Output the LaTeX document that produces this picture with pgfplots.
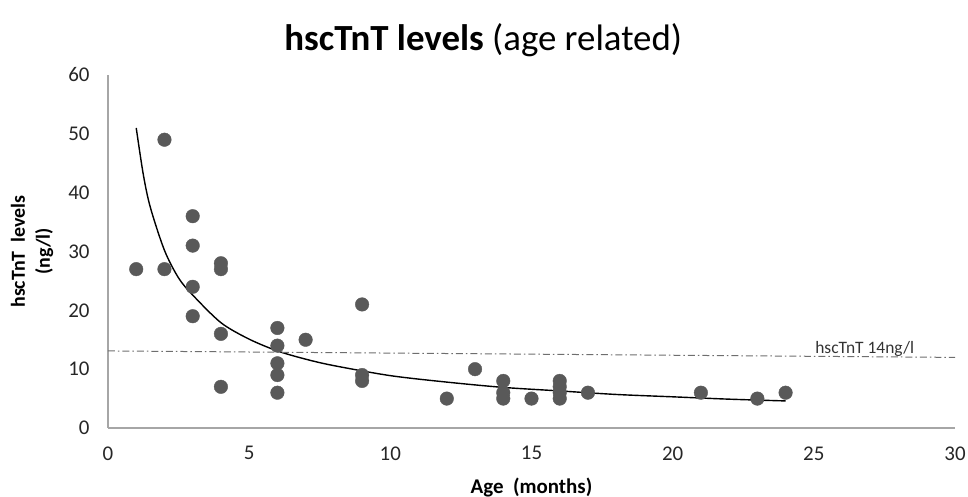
\documentclass[border=0pt]{standalone}
\usepackage{pgfplots}
\pgfplotsset{compat=1.18}
\usepackage{fontspec}
\setmainfont{Carlito}
\definecolor{dotgray}{RGB}{89,89,89}
\definecolor{axgray}{RGB}{166,166,166}
\definecolor{refgray}{RGB}{110,110,110}

\begin{document}
\begin{tikzpicture}
    \begin{axis}[
        scale only axis,
        width=847bp, height=353bp,
        xmin=0, xmax=30, ymin=0, ymax=60,
        xtick={0,5,...,30}, ytick={0,10,...,60},
        axis x line*=bottom, axis y line*=left,
        axis line style={axgray, line width=1.2bp},
        major tick length=0pt,
        /pgf/number format/assume math mode=true,
        ticklabel style={font=\fontsize{21}{24}\selectfont, text=black!85},
        xticklabel style={yshift=-15bp},
        yticklabel style={xshift=-15bp},
        clip=false,
        xlabel={Age\ \ (months)},
        every axis x label/.style={font=\bfseries\fontsize{21}{24}\selectfont,
                      at={(rel axis cs:0.5,-0.168)}, anchor=center},
        ylabel={hscTnT\ \ levels\\(ng/l)},
        every axis y label/.style={font=\bfseries\fontsize{20}{25}\selectfont, align=center,
                      at={(rel axis cs:-0.0897,0.50)}, anchor=center, rotate=90},
    ]
        % measured patients
        \addplot[only marks, mark=*, mark size=6.8bp, dotgray, mark options={draw=dotgray, fill=dotgray}] coordinates {
            (1,27) (2,49) (2,27)
            (3,36) (3,31) (3,24) (3,19)
            (4,28) (4,27) (4,16) (4,7)
            (6,17) (6,14) (6,11) (6,9) (6,6)
            (7,15)
            (9,21) (9,9) (9,8)
            (12,5) (13,10)
            (14,8) (14,6) (14,5)
            (15,5)
            (16,8) (16,7) (16,6) (16,5)
            (17,6) (21,6) (23,5) (24,6)};
        % power trend line
        \addplot[black, line width=1.4bp, smooth] coordinates {
            (1,51.0) (1.25,43.1) (1.5,37.5) (2,30.2) (2.5,25.5) (3,22.6)
            (4,17.9) (5,15.1) (6,13.1) (7,11.7) (8,10.6) (10,8.9)
            (12,7.8) (14,6.9) (16,6.3) (18,5.7) (20,5.3) (22,4.9) (24,4.6)};
        % reference level
        \addplot[refgray, line width=1bp, dash pattern=on 7bp off 3bp on 1.5bp off 3bp] coordinates {
            (0,13.1) (30,12.0)};
        \node[font=\fontsize{17.5}{20}\selectfont, text=black!80, anchor=base] at (axis cs:26.8,12.6) {hscTnT 14ng/l};

        \node[font=\fontsize{37}{40}\selectfont, anchor=center] at (rel axis cs:0.443,1.099)
            {\textbf{hscTnT levels} (age related)};

        \coordinate (BL) at (rel axis cs:-0.12751,-0.19547);
        \coordinate (TR) at (rel axis cs:1.01535,1.21246);
    \end{axis}
    \pgfresetboundingbox
    \path (BL) rectangle (TR);
\end{tikzpicture}
\end{document}
